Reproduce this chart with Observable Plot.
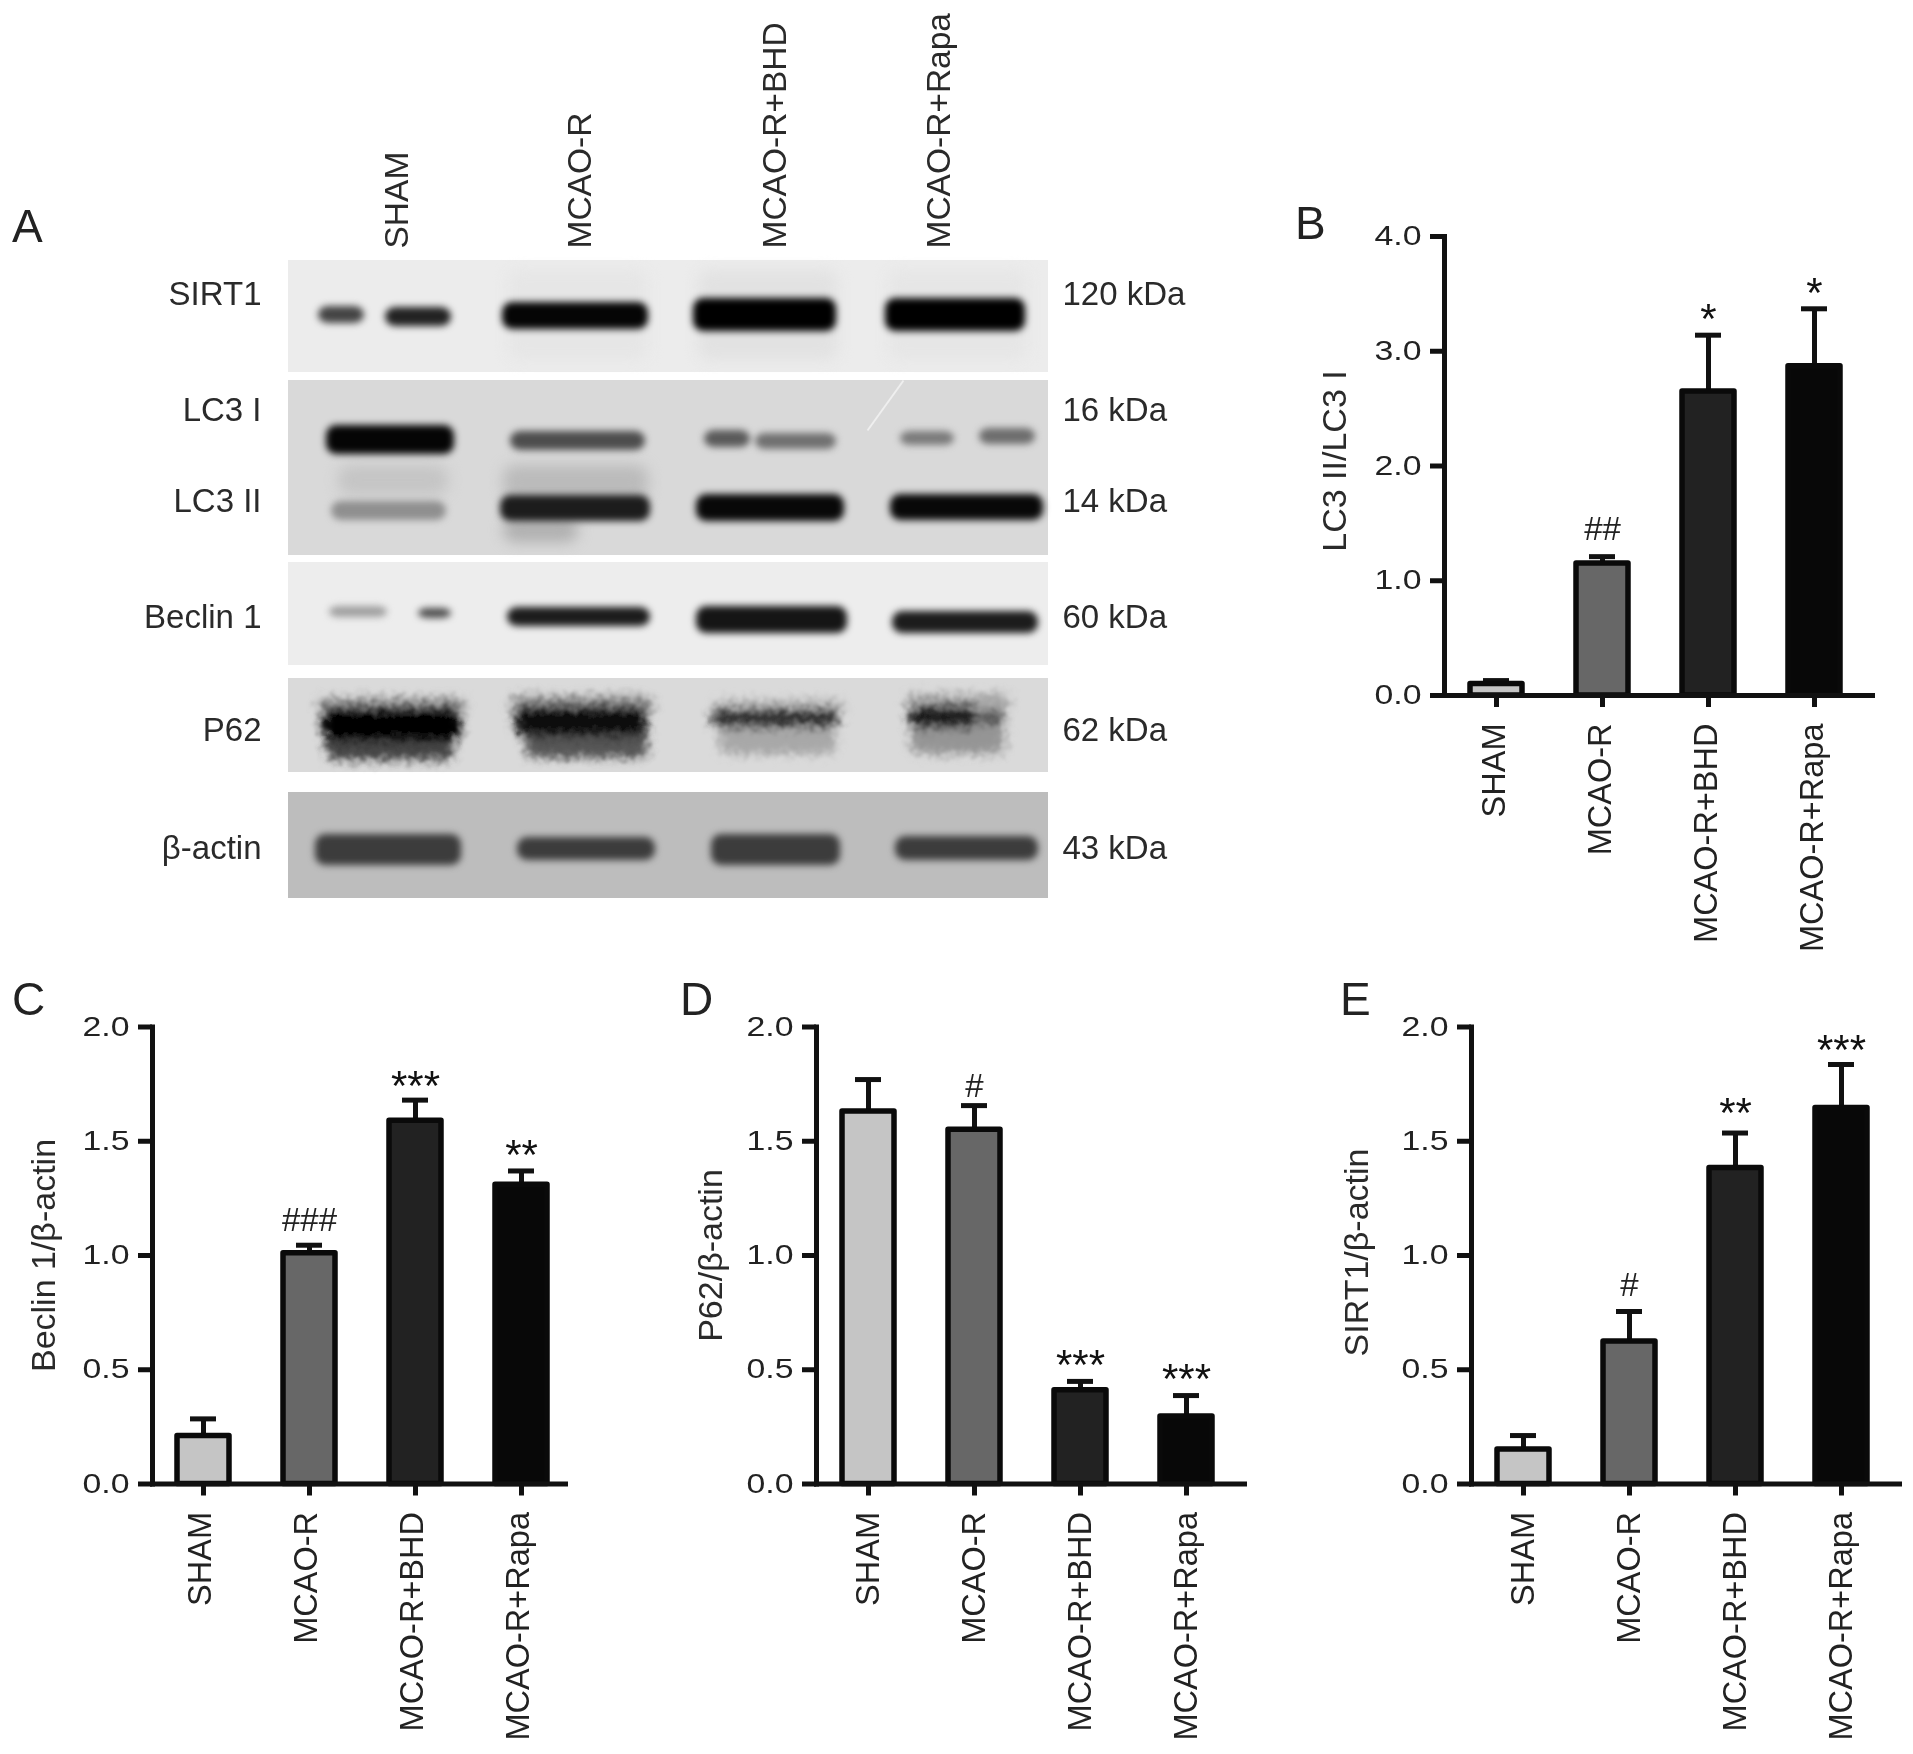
<!DOCTYPE html>
<html><head><meta charset="utf-8">
<script src="https://cdn.jsdelivr.net/npm/d3@7"></script>
<script src="https://cdn.jsdelivr.net/npm/@observablehq/plot@0.6"></script>
<style>
html,body{margin:0;background:#fff;}
#page{position:relative;width:1913px;height:1754px;overflow:hidden;font-family:"Liberation Sans",Arial,sans-serif;color:#222;}
#page svg{position:absolute;overflow:visible;background:transparent;}
.letter{position:absolute;font-size:46px;line-height:46px;}
</style></head><body>
<svg width="0" height="0" style="position:absolute"><defs>
  <filter id="grain" x="-10%" y="-30%" width="120%" height="160%">
    <feGaussianBlur in="SourceGraphic" stdDeviation="5" result="soft"/>
    <feTurbulence type="fractalNoise" baseFrequency="0.14" numOctaves="2" seed="4" result="n"/>
    <feDisplacementMap in="soft" in2="n" scale="12" xChannelSelector="R" yChannelSelector="G"/>
    <feGaussianBlur stdDeviation="0.9"/>
  </filter>
</defs></svg>
<div id="page"></div>
<script>
// ---- data ----
const groups = ["SHAM","MCAO-R","MCAO-R+BHD","MCAO-R+Rapa"];
const greys = ["#c5c5c5","#676767","#222222","#080808"];

const lc3Mean = [0.10,1.15,2.65,2.87];
const lc3Top  = [0.13,1.21,3.14,3.37];
const lc3Sig  = ["","##","*","*"];
const lc3SigY = [null,1.45,3.34,3.56];

const beclinMean = [0.21,1.01,1.59,1.31];
const beclinTop  = [0.285,1.045,1.68,1.37];
const beclinSig  = ["","###","***","**"];
const beclinSigY = [null,1.153,1.77,1.47];

const p62Mean = [1.63,1.55,0.41,0.295];
const p62Top  = [1.77,1.656,0.449,0.387];
const p62Sig  = ["","#","***","***"];
const p62SigY = [null,1.74,0.551,0.486];

const sirtMean = [0.151,0.624,1.383,1.645];
const sirtTop  = [0.212,0.755,1.536,1.836];
const sirtSig  = ["","#","**","***"];
const sirtSigY = [null,0.869,1.652,1.926];

// western blot, in gel units (0..760 across, 0..638 down)
const blotRows = [
  {name:"SIRT1",  kda:"120 kDa", y1:0,   y2:112, shade:"#ececec", labelY:34},
  {name:"LC3",    kda:null,      y1:120, y2:295, shade:"#d9d9d9", labelY:null},
  {name:"Beclin 1",kda:"60 kDa", y1:302, y2:405, shade:"#ededed", labelY:357},
  {name:"P62",    kda:"62 kDa",  y1:418, y2:512, shade:"#dadada", labelY:470},
  {name:"β-actin",kda:"43 kDa",  y1:532, y2:638, shade:"#bdbdbd", labelY:588}
];
const lc3Labels = [{name:"LC3 I",kda:"16 kDa",labelY:150},{name:"LC3 II",kda:"14 kDa",labelY:241}];
const laneLabels = [{t:"SHAM",x:109},{t:"MCAO-R",x:292},{t:"MCAO-R+BHD",x:487},{t:"MCAO-R+Rapa",x:651}];
const sharpBands = [
  // SIRT1
  [30,76,46,63,"#444"],[97,163,47,66,"#222"],[214,360,42,69,"#050505"],[405,548,38,71,"#000"],[597,737,38,71,"#000"],
  // LC3 I
  [38,166,165,194,"#050505"],[222,357,171,190,"#4d4d4d"],[416,462,170,187,"#5a5a5a"],[467,548,173,189,"#707070"],[612,666,171,185,"#7a7a7a"],[691,747,168,184,"#6d6d6d"],
  // LC3 II
  [43,158,241,260,"#8f8f8f"],[212,362,235,261,"#1c1c1c"],[408,556,234,261,"#080808"],[602,755,234,260,"#080808"],
  // Beclin 1
  [41,99,346,357,"#9f9f9f"],[130,163,348,358,"#4d4d4d"],[219,362,347,366,"#1c1c1c"],[408,559,346,373,"#151515"],[604,750,351,373,"#1c1c1c"],
  // beta-actin
  [27,173,574,605,"#3c3c3c"],[229,367,577,600,"#3c3c3c"],[423,552,574,605,"#3c3c3c"],[607,750,576,600,"#3c3c3c"]
].map(([x1,x2,y1,y2,c])=>({x1,x2,y1,y2,c}));
const p62Bands = [
  [30,178,438,456,"#8a8a8a"],[222,365,436,456,"#8a8a8a"],[425,556,440,456,"#b0b0b0"],[618,722,434,452,"#a5a5a5"],
  [38,166,470,500,"#454545"],[237,360,468,498,"#555555"],[431,548,463,494,"#a8a8a8"],[622,717,463,494,"#959595"],
  [34,173,447,481,"#060606"],[227,359,446,476,"#080808"],[423,551,449,467,"#262626"],[620,690,445,468,"#1c1c1c"],[690,717,450,465,"#505050"]
].map(([x1,x2,y1,y2,c])=>({x1,x2,y1,y2,c}));
const diffuseBands = [
  // LC3 smear between the bands
  [50,160,205,235,"#c5c5c5"],[215,360,205,240,"#bbbbbb"],[215,290,258,282,"#b0b0b0"],
  // SIRT1 faint lane halos
  [220,360,10,100,"#e6e6e6"],[410,550,10,100,"#e2e2e2"],[600,740,10,100,"#e6e6e6"]
].map(([x1,x2,y1,y2,c])=>({x1,x2,y1,y2,c}));

// ---- layout ----
const FONT = '"Liberation Sans",Arial,sans-serif';
const page = document.getElementById("page");

function addLetter(t,left,top){
  const d=document.createElement("div");d.className="letter";d.textContent=t;
  d.style.left=left+"px";d.style.top=top+"px";page.appendChild(d);
}

function barPanel(o){
  const rows = groups.map((g,i)=>({g,mean:o.mean[i],top:o.top[i],sig:o.sig[i],sigY:o.sigY[i],fill:greys[i]}));
  const step=(o.c4-o.c1)/3, barW=52.5;
  const inner=1-barW/step;
  const marks=[
    Plot.ruleX(rows,{x:"g",y1:"mean",y2:"top",stroke:"#111",strokeWidth:5}),
    Plot.tickY(rows,{x:"g",y:"top",stroke:"#111",strokeWidth:5,insetLeft:13,insetRight:13}),
    Plot.barY(rows,{x:"g",y:"mean",fill:"fill",stroke:"#0a0a0a",strokeWidth:5.5,strokeLinejoin:"round"}),
    Plot.frame({anchor:"left",stroke:"#111",strokeWidth:5}),
    Plot.frame({anchor:"bottom",stroke:"#111",strokeWidth:5}),
    Plot.axisY({ticks:o.ticks,tickFormat:d=>d.toFixed(1),tickSize:14,tickPadding:9,strokeWidth:5,stroke:"#111",fontSize:27,label:null}),
    Plot.axisX({tickSize:12,tickPadding:16,strokeWidth:5,stroke:"#111",fontSize:32.5,tickRotate:-90,label:null}),
    Plot.text([o.title],{frameAnchor:"left",dx:o.titleDx,dy:o.titleDy,rotate:-90,fontSize:34,textAnchor:"middle",lineAnchor:"middle",fill:"#2a2a2a"}),
    Plot.text(rows.filter(r=>r.sig[0]==="#"),{x:"g",y:"sigY",text:"sig",fontSize:33,lineAnchor:"middle",fill:"#222"}),
    Plot.text(rows.filter(r=>r.sig[0]==="*"),{x:"g",y:"sigY",text:"sig",fontSize:42,lineAnchor:"middle",dy:7,fill:"#111"})
  ];
  const svg=Plot.plot({
    width:o.W,height:o.H,marginLeft:o.ml,marginRight:o.mr,marginTop:o.mt,marginBottom:o.mb,
    style:{fontFamily:FONT,color:"#222",background:"transparent",overflow:"visible"},
    x:{type:"band",domain:groups,range:[o.c1-step/2-o.L,o.c4+step/2-o.L],paddingInner:inner,paddingOuter:inner/2,align:0.5,label:null},
    y:{domain:o.domain,label:null},
    marks
  });
  svg.style.left=o.L+"px";svg.style.top=o.T+"px";
  d3.select(svg).selectAll('[aria-label="y-axis tick label"] text')
    .attr("textLength",47).attr("lengthAdjust","spacingAndGlyphs");
  d3.select(svg).selectAll('[aria-label="x-axis tick label"] text')
    .attr("transform",function(){return `translate(${o.labelShift},0) `+(this.getAttribute("transform")||"");});
  page.appendChild(svg);
}

// ---- panel A ----
(function(){
  const L=0,T=0,W=1285,H=970,gx=288,gy=260;
  const labelRows=[...blotRows.filter(r=>r.labelY!==null),...lc3Labels];
  const svg=Plot.plot({
    width:W,height:H,marginLeft:gx,marginRight:W-1048,marginTop:gy,marginBottom:H-898,
    style:{fontFamily:FONT,color:"#222",background:"transparent",overflow:"visible"},
    x:{domain:[0,760],axis:null},y:{domain:[638,0],axis:null},
    marks:[
      Plot.rect(blotRows,{x1:0,x2:760,y1:"y1",y2:"y2",fill:"shade"}),
      Plot.rect(diffuseBands,{x1:"x1",x2:"x2",y1:"y1",y2:"y2",fill:"c",rx:12,mixBlendMode:"multiply",imageFilter:"blur(7px)"}),
      Plot.rect(sharpBands,{x1:"x1",x2:"x2",y1:"y1",y2:"y2",fill:"c",rx:10,imageFilter:"blur(3.5px)"}),
      Plot.rect(p62Bands,{x1:"x1",x2:"x2",y1:"y1",y2:"y2",fill:"c",rx:10,imageFilter:"url(#grain)"}),
      Plot.link([{a:615,b:120,c:579,d:170}],{x1:"a",y1:"b",x2:"c",y2:"d",stroke:"#f4f4f4",strokeWidth:2,opacity:0.8}),
      Plot.text(labelRows,{x:-27,y:"labelY",text:"name",textAnchor:"end",lineAnchor:"middle",fontSize:33,fill:"#2a2a2a"}),
      Plot.text(labelRows,{x:774,y:"labelY",text:"kda",textAnchor:"start",lineAnchor:"middle",fontSize:33,fill:"#2a2a2a"}),
      Plot.text(laneLabels,{x:"x",y:-12,text:"t",rotate:-90,textAnchor:"start",lineAnchor:"middle",fontSize:33.5,fill:"#2a2a2a"})
    ]
  });
  svg.style.left=L+"px";svg.style.top=T+"px";
  page.appendChild(svg);
})();

barPanel({L:1285,T:200,W:628,H:770,ml:159,mr:41,mt:36,mb:275,c1:1495.5,c4:1815.5,domain:[0,4],ticks:[0,1,2,3,4],labelShift:-2,
  title:"LC3 II/LC3 I",titleDx:-109,titleDy:-5,mean:lc3Mean,top:lc3Top,sig:lc3Sig,sigY:lc3SigY});
barPanel({L:0,T:970,W:640,H:784,ml:152,mr:75,mt:56.5,mb:270.5,c1:203,c4:521.6,domain:[0,2],ticks:[0,0.5,1,1.5,2],labelShift:-3,
  title:"Beclin 1/β-actin",titleDx:-108,titleDy:0,mean:beclinMean,top:beclinTop,sig:beclinSig,sigY:beclinSigY});
barPanel({L:660,T:970,W:620,H:784,ml:156,mr:36,mt:56.5,mb:270.5,c1:868,c4:1187,domain:[0,2],ticks:[0,0.5,1,1.5,2],labelShift:0,
  title:"P62/β-actin",titleDx:-105,titleDy:0,mean:p62Mean,top:p62Top,sig:p62Sig,sigY:p62SigY});
barPanel({L:1320,T:970,W:593,H:784,ml:151,mr:14,mt:56.5,mb:270.5,c1:1522,c4:1842,domain:[0,2],ticks:[0,0.5,1,1.5,2],labelShift:0,
  title:"SIRT1/β-actin",titleDx:-114,titleDy:-3,mean:sirtMean,top:sirtTop,sig:sirtSig,sigY:sirtSigY});

addLetter("A",12,203);
addLetter("B",1295,200);
addLetter("C",12,976);
addLetter("D",680,976);
addLetter("E",1340,976);
</script></body></html>
